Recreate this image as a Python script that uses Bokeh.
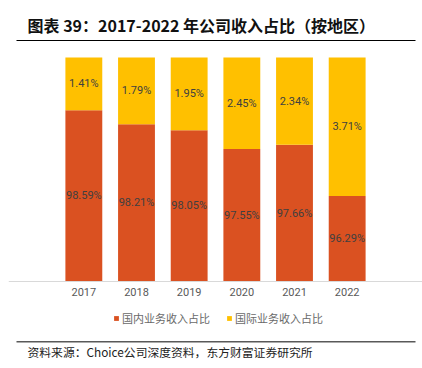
from bokeh.plotting import figure
from bokeh.models import (ColumnDataSource, LabelSet, Legend, LegendItem, Label,
                          BoxAnnotation, Range1d)
from bokeh.core.properties import value
from bokeh.embed import file_html
from bokeh.resources import INLINE

years = ["2017", "2018", "2019", "2020", "2021", "2022"]
domestic = [98.59, 98.21, 98.05, 97.55, 97.66, 96.29]
international = [1.41, 1.79, 1.95, 2.45, 2.34, 3.71]
series_names = ["国内业务收入占比", "国际业务收入占比"]
title_text = "图表 39：2017-2022 年公司收入占比（按地区）"
source_text = "资料来源：Choice公司深度资料，东方财富证券研究所"
y_min, y_max = 94, 100

ORANGE = "#DA5121"
YELLOW = "#FFC000"
CJK = "Noto Sans CJK SC"
NUM = "Roboto"

# page geometry (px)
W, H = 422, 368
PLOT_L, PLOT_R, PLOT_T, PLOT_B = 57, 373, 57, 281
FRAME_L = 8  # frame spans FRAME_L..W so category padding is symmetric

unit_x = (PLOT_R - PLOT_L) / len(years)
pad_x = (PLOT_L - FRAME_L) / unit_x
unit_y = (PLOT_B - PLOT_T) / (y_max - y_min)
y_lo = y_min - (H - PLOT_B) / unit_y
y_hi = y_max + PLOT_T / unit_y

src = ColumnDataSource(dict(
    year=years,
    dom_bottom=[y_min] * len(years),
    dom_top=domestic,
    int_top=[d + i for d, i in zip(domestic, international)],
    dom_mid=[(y_min + d) / 2 for d in domestic],
    int_mid=[d + i / 2 for d, i in zip(domestic, international)],
    dom_lbl=[f"{d:.2f}%" for d in domestic],
    int_lbl=[f"{i:.2f}%" for i in international],
))

p = figure(x_range=years, y_range=Range1d(y_lo, y_hi), width=W, height=H,
           output_backend="svg", toolbar_location=None,
           min_border_left=FRAME_L, min_border_right=0, min_border_top=0,
           min_border_bottom=0)
p.outline_line_color = None
p.x_range.range_padding = pad_x
p.x_range.range_padding_units = "absolute"
p.xgrid.visible = False
p.ygrid.visible = False
p.yaxis.visible = False

r1 = p.vbar(x="year", bottom="dom_bottom", top="dom_top", width=0.7, source=src,
            fill_color=ORANGE, line_color=None)
r2 = p.vbar(x="year", bottom="dom_top", top="int_top", width=0.7, source=src,
            fill_color=YELLOW, line_color=None)

for ycol, tcol in (("dom_mid", "dom_lbl"), ("int_mid", "int_lbl")):
    p.add_layout(LabelSet(x="year", y=ycol, text=tcol, source=src,
                          text_align="center", text_baseline="middle",
                          text_font=value(NUM), text_font_size=value("11px"),
                          text_color="#404040"))

ax = p.xaxis[0]
ax.fixed_location = y_min
ax.axis_line_color = "#D9D9D9"
ax.axis_line_width = 1
ax.major_tick_line_color = None
ax.minor_tick_line_color = None
ax.major_tick_out = 0
ax.major_label_standoff = 6
ax.major_label_text_font = NUM
ax.major_label_text_font_size = "11px"
ax.major_label_text_color = "#595959"

def sx(px):
    return px - FRAME_L

def sy(py):
    return H - py

legend = Legend(items=[LegendItem(label=series_names[0], renderers=[r1]),
                       LegendItem(label=series_names[1], renderers=[r2])],
                orientation="horizontal", location=(sx(113), sy(318) - 8),
                glyph_width=6, glyph_height=6, label_standoff=3, spacing=16,
                padding=0, margin=0, border_line_color=None,
                background_fill_alpha=0,
                label_text_font=CJK, label_text_font_size="11px",
                label_text_color="#6A6A6A")
p.add_layout(legend)

p.add_layout(Label(x=sx(27), y=sy(24), x_units="screen", y_units="screen",
                   text=title_text, text_font=CJK, text_font_size="16px",
                   text_font_style="bold", text_color="#111111",
                   text_baseline="middle", text_align="left"))
p.add_layout(BoxAnnotation(left=sx(16), right=sx(415), bottom=sy(40.5), top=sy(39.5),
                           left_units="screen", right_units="screen",
                           bottom_units="screen", top_units="screen",
                           fill_color="#000000", fill_alpha=1, line_color=None))
p.add_layout(BoxAnnotation(left=sx(16), right=sx(415), bottom=sy(342), top=sy(340.5),
                           left_units="screen", right_units="screen",
                           bottom_units="screen", top_units="screen",
                           fill_color="#595959", fill_alpha=1, line_color=None))
p.add_layout(Label(x=sx(27), y=sy(351), x_units="screen", y_units="screen",
                   text=source_text, text_font=CJK, text_font_size="11.8px",
                   text_color="#222222", text_baseline="middle", text_align="left"))

open("out.html", "w").write(file_html(p, INLINE))
